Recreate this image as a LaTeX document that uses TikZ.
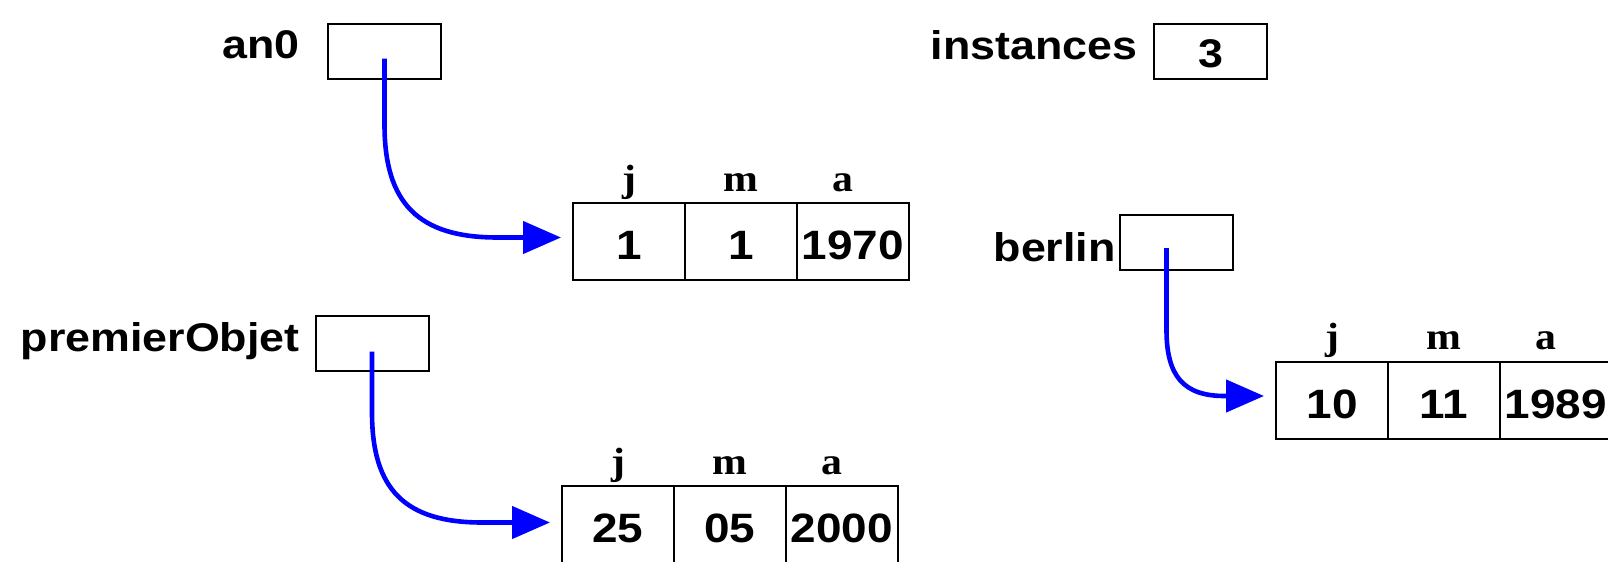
\documentclass[tikz,border=0pt]{standalone}
\usepackage{fontspec}
\usetikzlibrary{arrows.meta,calc}
\newfontfamily\labfont[FakeStretch=1.12]{Liberation Sans}
\newfontfamily\hdrfont[FakeStretch=1.1]{Liberation Serif}
\begin{document}
\begin{tikzpicture}[x=0.5pt,y=-0.5pt,
  varname/.style={anchor=base east, inner sep=0pt, font=\labfont\bfseries\fontsize{20pt}{24pt}\selectfont},
  ptrbox/.style={draw=black, line width=1pt, minimum width=56.5pt, minimum height=27.5pt, inner sep=0pt,
    text height=16.3pt, text depth=0pt, font=\labfont\bfseries\fontsize{20pt}{24pt}\selectfont},
  cell/.style={draw=black, line width=1pt, minimum width=56pt, minimum height=38.5pt, inner sep=0pt,
    text height=18.3pt, text depth=0pt, font=\labfont\bfseries\fontsize{20.5pt}{24pt}\selectfont},
  fieldlab/.style={anchor=base, inner sep=0pt, yshift=5.5pt, font=\hdrfont\bfseries\fontsize{19pt}{22pt}\selectfont},
  ptr/.style={draw=blue, line width=2.3pt, -{Triangle[length=19pt,width=16pt]}}
]
\useasboundingbox (0,0) rectangle (1608,562);
\fill[white] (0,0) rectangle (1608,562);
\clip (0,0) rectangle (1608,562);

% pointer variables
\node[ptrbox] (an0box) at (384.5,51.5) {};
\node[varname] (an0lab) at (300,58) {an0};
\node[ptrbox] (instbox) at (1210.5,51.5) {3};
\node[varname] (instlab) at (1138,59) {instances};
\node[ptrbox] (berbox) at (1176.5,242) {};
\node[varname] (berlab) at (1116,261) {berlin};
\node[ptrbox] (prembox) at (372,343.5) {};
\node[varname] (premlab) at (300,351) {premierObjet};

% array 1
\node[cell] (a1j) at (629,241.5) {1};
\node[cell] (a1m) at (741,241.5) {1};
\node[cell] (a1a) at (853,241.5) {1970};
\node[fieldlab] (h1j) at (a1j.north) {j};
\node[fieldlab] (h1m) at (a1m.north) {m};
\node[fieldlab,xshift=-5pt] (h1a) at (a1a.north) {a};

% array 2
\node[cell] (a2j) at (1332,400) {10};
\node[cell] (a2m) at (1444,400) {11};
\node[cell] (a2a) at (1556,400) {1989};
\node[fieldlab] (h2j) at (a2j.north) {j};
\node[fieldlab] (h2m) at (a2m.north) {m};
\node[fieldlab,xshift=-5pt] (h2a) at (a2a.north) {a};

% array 3
\node[cell] (a3j) at (618,524.5) {25};
\node[cell] (a3m) at (730,524.5) {05};
\node[cell] (a3a) at (842,524.5) {2000};
\node[fieldlab] (h3j) at (a3j.north) {j};
\node[fieldlab] (h3m) at (a3m.north) {m};
\node[fieldlab,xshift=-5pt] (h3a) at (a3a.north) {a};

% pointers
\coordinate (s1) at ([yshift=-3.5pt]an0box.center);
\coordinate (t1) at ([xshift=-5.5pt,yshift=2pt]a1j.west);
\draw[ptr] (s1) -- ($(s1|-t1)+(0,-113)$) .. controls +(0,79) and +(-79,0) .. ($(s1|-t1)+(113,0)$) -- (t1);

\coordinate (s2) at ([xshift=-5pt,yshift=-3pt]berbox.center);
\coordinate (t2) at ([xshift=-5.5pt,yshift=2pt]a2j.west);
\draw[ptr] (s2) -- ($(s2|-t2)+(0,-66)$) .. controls +(0,46) and +(-41,0) .. ($(s2|-t2)+(58,0)$) -- (t2);

\coordinate (s3) at ([yshift=-4pt]prembox.center);
\coordinate (t3) at ([xshift=-5.5pt,yshift=1pt]a3j.west);
\draw[ptr] (s3) -- ($(s3|-t3)+(0,-110)$) .. controls +(0,77) and +(-77,0) .. ($(s3|-t3)+(110,0)$) -- (t3);
\end{tikzpicture}
\end{document}
